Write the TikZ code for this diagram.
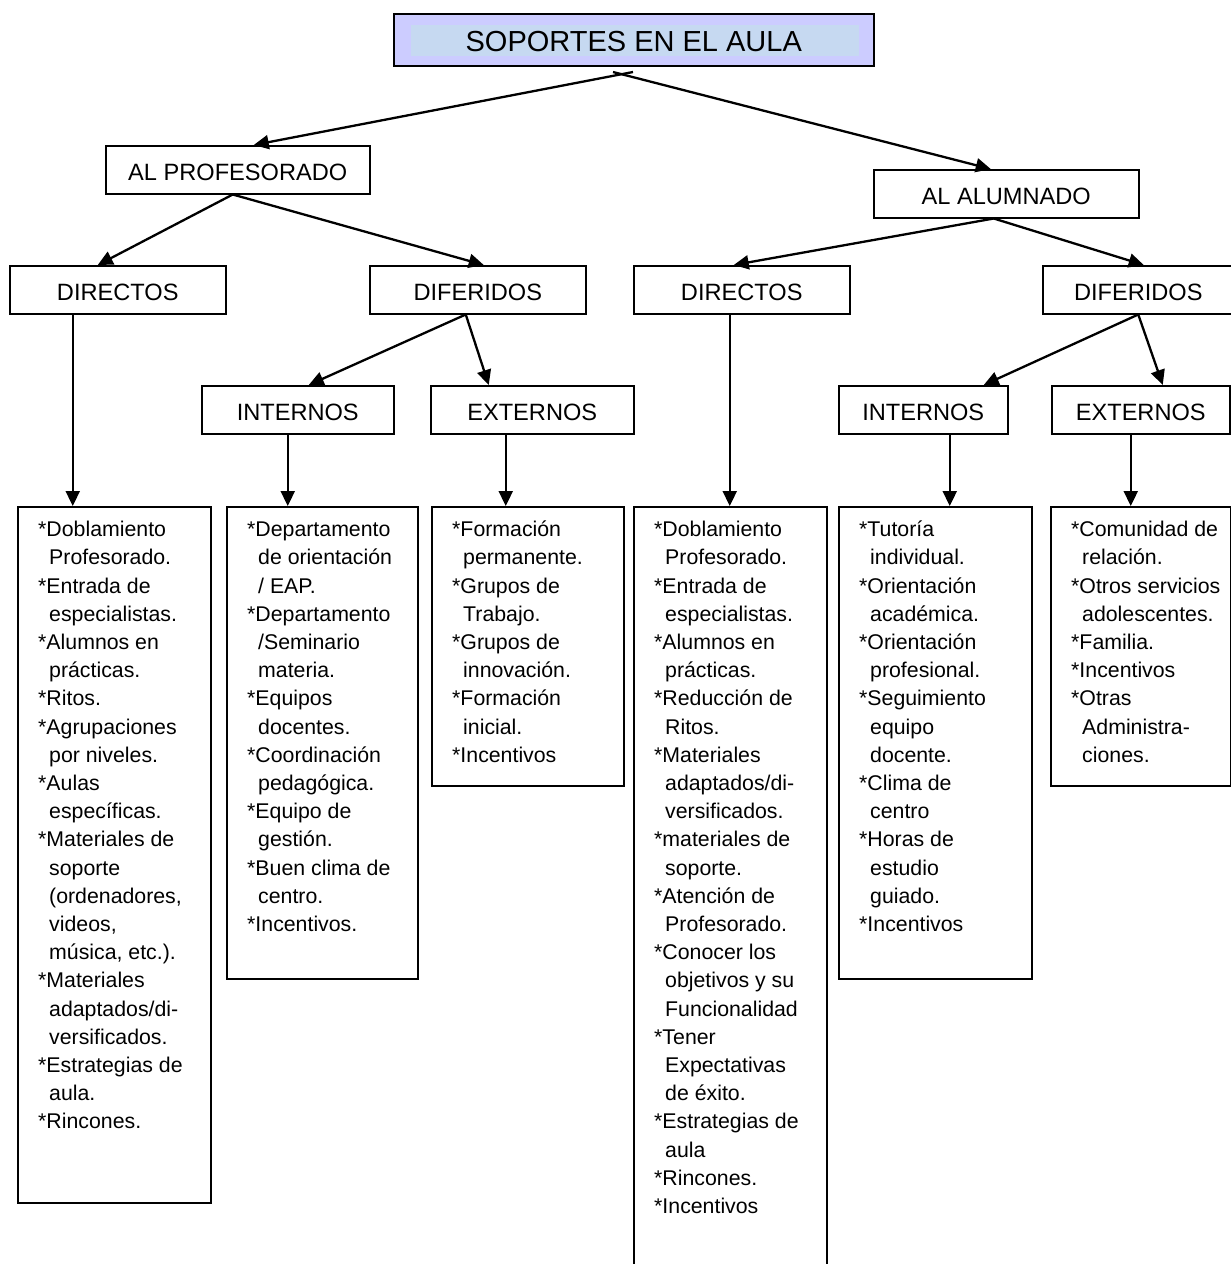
\documentclass[tikz,border=0pt]{standalone}
\usepackage{fontspec}
\setmainfont{Liberation Sans}
\usetikzlibrary{arrows.meta}
\definecolor{lav}{RGB}{204,204,255}
\definecolor{band}{RGB}{198,217,241}
\newcommand\myind{\hspace*{11pt}}
\begin{document}
\begin{tikzpicture}[x=1pt,y=-1pt,
  box/.style={draw=black,line width=1.5pt,rectangle,inner sep=0pt,anchor=north west},
  head/.style={box,font=\fontsize{23.6}{28}\selectfont,text height=21pt,text depth=0pt},
  titlebox/.style={box,fill=lav,font=\fontsize{29}{34}\selectfont,text height=23pt,text depth=0pt,
    path picture={\fill[band] ([xshift=17pt,yshift=-11pt]path picture bounding box.north west) rectangle ([xshift=-15pt,yshift=10pt]path picture bounding box.south east);}},
  listtext/.style={anchor=north west,inner sep=0pt,align=left,font=\fontsize{21.3}{28.2}\selectfont},
  arr/.style={line width=2.3pt,-{Triangle[length=15pt,width=14pt]}},
  ln/.style={line width=2.3pt}
]
\useasboundingbox (0,0) rectangle (1231,1264);

% header boxes
\node[titlebox,minimum width=480pt,minimum height=52pt] (title) at (393,13) {SOPORTES EN EL AULA};
\node[head,minimum width=264pt,minimum height=48pt] (prof) at (105,145) {AL PROFESORADO};
\node[head,minimum width=265pt,minimum height=48pt] (alum) at (873,169) {AL ALUMNADO};
\node[head,minimum width=216pt,minimum height=48pt] (dirL) at (9,265) {DIRECTOS};
\node[head,minimum width=216pt,minimum height=48pt] (difL) at (369,265) {DIFERIDOS};
\node[head,minimum width=216pt,minimum height=48pt] (dirM) at (633,265) {DIRECTOS};
\node[head,minimum width=191pt,minimum height=48pt] (difR) at (1042,265) {DIFERIDOS};
\node[head,minimum width=192pt,minimum height=48pt] (intL) at (201,385) {INTERNOS};
\node[head,minimum width=203pt,minimum height=48pt] (extL) at (430,385) {EXTERNOS};
\node[head,minimum width=169pt,minimum height=48pt] (intR) at (838,385) {INTERNOS};
\node[head,minimum width=178pt,minimum height=48pt] (extR) at (1051,385) {EXTERNOS};

% list boxes
\node[box,minimum width=193pt,minimum height=696pt] (b1) at (17,506) {};
\node[box,minimum width=191pt,minimum height=472pt] (b2) at (226,506) {};
\node[box,minimum width=192pt,minimum height=279pt] (b3) at (431,506) {};
\node[box,minimum width=193pt,minimum height=770pt] (b4) at (633,506) {};
\node[box,minimum width=193pt,minimum height=472pt] (b5) at (838,506) {};
\node[box,minimum width=180pt,minimum height=279pt] (b6) at (1050,506) {};

% list texts
\node[listtext] (t1) at (38,516.8) {\strut*Doblamiento\\ \myind Profesorado.\\ *Entrada de\\ \myind especialistas.\\ *Alumnos en\\ \myind prácticas.\\ *Ritos.\\ *Agrupaciones\\ \myind por niveles.\\ *Aulas\\ \myind específicas.\\ *Materiales de\\ \myind soporte\\ \myind (ordenadores,\\ \myind videos,\\ \myind música, etc.).\\ *Materiales\\ \myind adaptados/di-\\ \myind versificados.\\ *Estrategias de\\ \myind aula.\\ *Rincones.};
\node[listtext] (t2) at (247,516.8) {\strut*Departamento\\ \myind de orientación\\ \myind / EAP.\\ *Departamento\\ \myind /Seminario\\ \myind materia.\\ *Equipos\\ \myind docentes.\\ *Coordinación\\ \myind pedagógica.\\ *Equipo de\\ \myind gestión.\\ *Buen clima de\\ \myind centro.\\ *Incentivos.};
\node[listtext] (t3) at (452,516.8) {\strut*Formación\\ \myind permanente.\\ *Grupos de\\ \myind Trabajo.\\ *Grupos de\\ \myind innovación.\\ *Formación\\ \myind inicial.\\ *Incentivos};
\node[listtext] (t4) at (654,516.8) {\strut*Doblamiento\\ \myind Profesorado.\\ *Entrada de\\ \myind especialistas.\\ *Alumnos en\\ \myind prácticas.\\ *Reducción de\\ \myind Ritos.\\ *Materiales\\ \myind adaptados/di-\\ \myind versificados.\\ *materiales de\\ \myind soporte.\\ *Atención de\\ \myind Profesorado.\\ *Conocer los\\ \myind objetivos y su\\ \myind Funcionalidad\\ *Tener\\ \myind Expectativas\\ \myind de éxito.\\ *Estrategias de\\ \myind aula\\ *Rincones.\\ *Incentivos};
\node[listtext] (t5) at (859,516.8) {\strut*Tutoría\\ \myind individual.\\ *Orientación\\ \myind académica.\\ *Orientación\\ \myind profesional.\\ *Seguimiento\\ \myind equipo\\ \myind docente.\\ *Clima de\\ \myind centro\\ *Horas de\\ \myind estudio\\ \myind guiado.\\ *Incentivos};
\node[listtext] (t6) at (1071,516.8) {\strut*Comunidad de\\ \myind relación.\\ *Otros servicios\\ \myind adolescentes.\\ *Familia.\\ *Incentivos\\ *Otras\\ \myind Administra-\\ \myind ciones.};

% connectors
\coordinate (tl) at (633,72);
\coordinate (tr) at (613,72);
\draw[arr] (tl) -- ([xshift=16pt]prof.north);
\draw[arr] (tr) -- ([xshift=-15.5pt]alum.north);

\draw[arr] ([xshift=-5pt]prof.south) -- ([xshift=-20pt]dirL.north);
\draw[arr] ([xshift=-5pt]prof.south) -- ([xshift=6pt]difL.north);

\draw[arr] ([xshift=-12.5pt]alum.south) -- ([xshift=-8pt]dirM.north);
\draw[arr] ([xshift=-12.5pt]alum.south) -- ([xshift=5.5pt]difR.north);

\draw[arr] ([xshift=-12pt]difL.south) -- ([xshift=11pt]intL.north);
\draw[arr] ([xshift=-12pt]difL.south) -- ([xshift=-43.5pt]extL.north);

\draw[arr] (difR.south) -- ([xshift=60.5pt]intR.north);
\draw[arr] (difR.south) -- ([xshift=22pt]extR.north);

\draw[arr] ([xshift=-45pt]dirL.south) -- ([xshift=-45pt]dirL.south |- b1.north);
\draw[arr] ([xshift=-10pt]intL.south) -- ([xshift=-10pt]intL.south |- b2.north);
\draw[arr] ([xshift=-26.5pt]extL.south) -- ([xshift=-26.5pt]extL.south |- b3.north);
\draw[arr] ([xshift=-12pt]dirM.south) -- ([xshift=-12pt]dirM.south |- b4.north);
\draw[arr] ([xshift=26.5pt]intR.south) -- ([xshift=26.5pt]intR.south |- b5.north);
\draw[arr] ([xshift=-10pt]extR.south) -- ([xshift=-10pt]extR.south |- b6.north);
\end{tikzpicture}
\end{document}
